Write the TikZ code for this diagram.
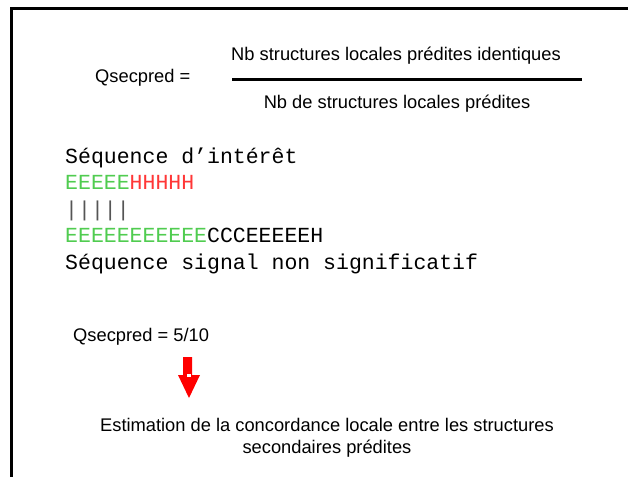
\documentclass[tikz,border=0pt]{standalone}
\usepackage{fontspec}
\setmainfont{Liberation Sans}
\newfontfamily\monofont{Liberation Mono}
\definecolor{egreen}{RGB}{80,204,80}
\definecolor{hred}{RGB}{255,55,55}
\definecolor{bargray}{RGB}{85,85,85}
\begin{document}
\begin{tikzpicture}[x=1pt,y=-1pt,
  sans/.style={inner sep=0pt,font=\fontsize{18.3}{22}\selectfont},
  mono/.style={inner sep=0pt,anchor=base west,font=\monofont\fontsize{21.5}{26.5}\selectfont},
  frame/.style={line width=3pt,line cap=butt}]
\useasboundingbox (0,0) rectangle (628,477);
% frame
\draw[frame] (628,8.5) -- (11.5,8.5) -- (11.5,477);
% formula
\node[sans,anchor=base west] (qlab) at (95,82) {Qsecpred =};
\node[sans,anchor=base] (num) at (396,60) {Nb structures locales prédites identiques};
\node[sans,anchor=base] (den) at (397,108) {Nb de structures locales prédites};
\coordinate (barL) at (232,79.5);
\coordinate (barR) at (582,79.5);
\draw[line width=2.5pt] (barL) -- (barR);
% sequences
\node[mono] (s1) at (65,163) {Séquence d’intérêt};
\node[mono] (s2) at (65,189.5) {\textcolor{egreen}{EEEEE}\textcolor{hred}{HHHHH}};
\node[mono,text=bargray] (s3) at (65,216) {|||||};
\node[mono] (s4) at (65,242.5) {\textcolor{egreen}{EEEEEEEEEEE}CCCEEEEEH};
\node[mono] (s5) at (65,269) {Séquence signal non significatif};
% result
\node[sans,anchor=base west] (res) at (73,341) {Qsecpred = 5/10};
\fill[red] (183,357) -- (192,357) -- (192,375) -- (200,375) -- (189,398) -- (178,375) -- (183,375) -- cycle;
\fill[white] (186.5,374) rectangle (190.5,377);
\node[sans,align=center,anchor=base] (est) at (327,453) {Estimation de la concordance locale entre les structures\\secondaires prédites};
\end{tikzpicture}
\end{document}
